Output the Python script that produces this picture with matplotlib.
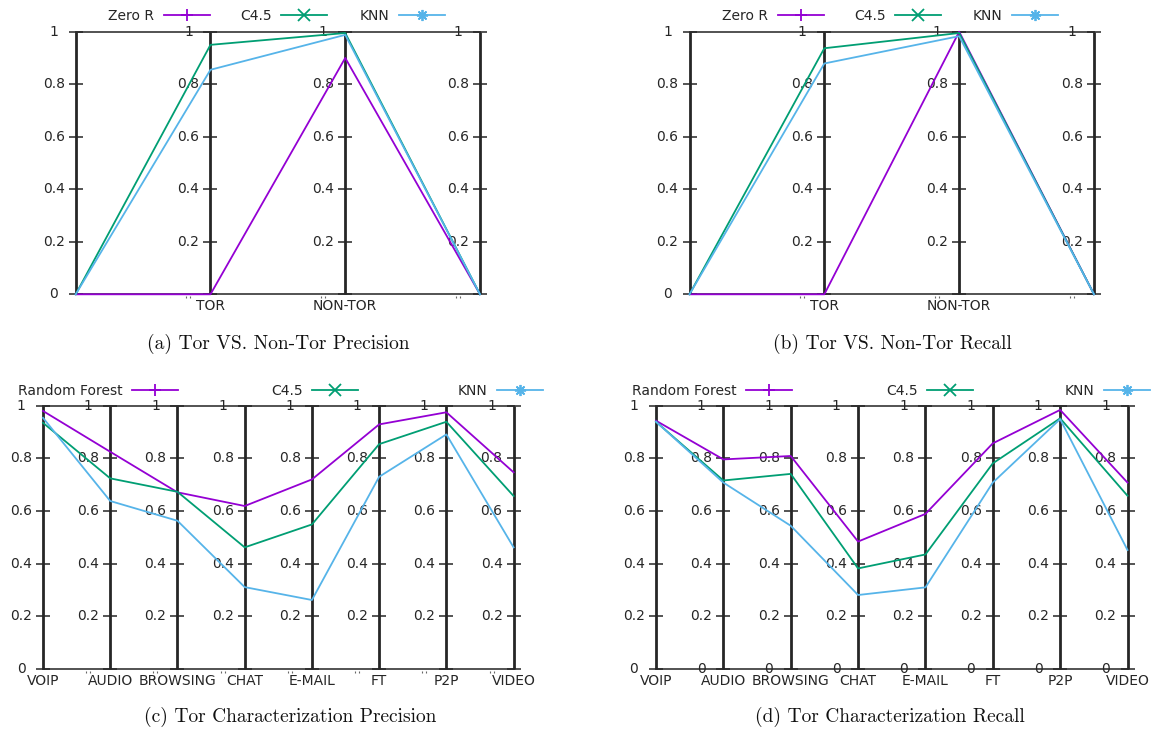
import matplotlib
matplotlib.use("Agg")
import matplotlib.pyplot as plt
from matplotlib.lines import Line2D
from matplotlib.transforms import offset_copy

W, H = 1153, 731
fig = plt.figure(figsize=(W / 100, H / 100), dpi=100)
fig.patch.set_facecolor("white")

# ---------------- data ----------------
tor_axes = ["", "TOR", "NON-TOR", ""]
a_zero_r = [0.0, 0.0, 0.90, 0.0]
a_c45 = [0.0, 0.95, 0.995, 0.0]
a_knn = [0.0, 0.855, 0.988, 0.0]

b_zero_r = [0.0, 0.0, 1.0, 0.0]
b_c45 = [0.0, 0.937, 0.995, 0.0]
b_knn = [0.0, 0.879, 0.983, 0.0]

char_axes = ["VOIP", "AUDIO", "BROWSING", "CHAT", "E-MAIL", "FT", "P2P", "VIDEO"]
c_rf = [0.98, 0.825, 0.671, 0.619, 0.72, 0.929, 0.975, 0.747]
c_c45 = [0.935, 0.724, 0.673, 0.462, 0.549, 0.854, 0.939, 0.657]
c_knn = [0.954, 0.638, 0.563, 0.311, 0.262, 0.730, 0.891, 0.462]

d_rf = [0.943, 0.796, 0.809, 0.484, 0.589, 0.857, 0.984, 0.708]
d_c45 = [0.939, 0.716, 0.741, 0.382, 0.435, 0.781, 0.952, 0.658]
d_knn = [0.939, 0.708, 0.544, 0.281, 0.310, 0.708, 0.949, 0.452]

tick_values = [0, 0.2, 0.4, 0.6, 0.8, 1]
tick_labels = ["0", "0.2", "0.4", "0.6", "0.8", "1"]

captions = ["(a) Tor VS. Non-Tor Precision", "(b) Tor VS. Non-Tor Recall",
            "(c) Tor Characterization Precision", "(d) Tor Characterization Recall"]

# ---------------- style ----------------
PURPLE = "#9400D3"
GREEN = "#009E73"
BLUE = "#56B4E9"
INK = "#262626"
FONT = "DejaVu Sans"
TFS = 10


def panel(box, cats, series, names, markers, legend_ends, legend_y,
          show_inner_zero, caption, cap_xy):
    l, r, t, b = box
    ax = fig.add_axes([l / W, 1 - b / H, (r - l) / W, (b - t) / H])
    n = len(cats)
    ax.set_xlim(0, n - 1)
    ax.set_ylim(0, 1)
    ax.axis("off")
    xs = list(range(n))

    # border lines top/bottom
    ax.plot([0, n - 1], [0, 0], color="#444444", lw=1.3, clip_on=False, zorder=2)
    ax.plot([0, n - 1], [1, 1], color="#444444", lw=1.3, clip_on=False, zorder=2)

    # vertical axes
    ax.vlines(xs, 0, 1, color=INK, lw=2.0, zorder=3, clip_on=False)
    # tick marks crossing each axis
    for xi in xs:
        ax.plot([xi] * len(tick_values), tick_values, ls="none", marker="_",
                ms=10, mew=1.1, color=INK, clip_on=False, zorder=3)

    # tick labels
    lab_tr = offset_copy(ax.transData, fig=fig, x=-22, y=0, units="dots")
    for i, xi in enumerate(xs):
        for tv, tlab in zip(tick_values, tick_labels):
            if tv == 0 and i > 0 and not show_inner_zero:
                # clipped remnant of the hidden "0" label (two tiny strokes)
                for dx in (-24, -20):
                    ax.plot([xi], [0], ls="none", marker="|", ms=1.6, mew=0.8,
                            color="#666666", clip_on=False,
                            transform=offset_copy(ax.transData, fig=fig, x=dx, y=-3,
                                                  units="dots"))
                continue
            ax.text(xi, tv, tlab, transform=lab_tr, ha="center", va="center",
                    fontsize=TFS, color=INK, family=FONT, zorder=4)

    # category labels
    cat_tr = offset_copy(ax.transData, fig=fig, x=0, y=-12, units="dots")
    for xi, c in zip(xs, cats):
        if c:
            ax.text(xi, 0, c, transform=cat_tr, ha="center", va="center",
                    fontsize=TFS, color=INK, family=FONT)

    # data lines
    colors = [PURPLE, GREEN, BLUE]
    for vals, col in zip(series, colors):
        ax.plot(xs, vals, color=col, lw=1.3, clip_on=False, zorder=5)

    # legend entries (gnuplot style: text then sample)
    for name, col, mk, xend in zip(names, colors, markers, legend_ends):
        h = Line2D([], [], color=col, lw=1.3, marker=mk, ms=8, mew=1.3)
        fig.legend(handles=[h], labels=[name], loc="center right",
                   bbox_to_anchor=(xend / W, 1 - legend_y / H),
                   markerfirst=False, frameon=False, borderpad=0,
                   borderaxespad=0, handlelength=3.3, handletextpad=0.7,
                   numpoints=1, prop=dict(family=FONT, size=TFS),
                   labelcolor=INK)

    fig.text(cap_xy[0] / W, 1 - cap_xy[1] / H, caption, ha="center", va="center",
             fontsize=14, family="cmr10", color="#111111")
    return ax


star = (8, 2, 0)
panel((75.7, 480, 31.7, 294.3), tor_axes, [a_zero_r, a_c45, a_knn],
      ["Zero R", "C4.5", "KNN"], ["+", "x", star], [210, 327, 445], 16,
      False, captions[0], (278, 344))
panel((689.5, 1094, 31.7, 294.3), tor_axes, [b_zero_r, b_c45, b_knn],
      ["Zero R", "C4.5", "KNN"], ["+", "x", star], [824, 941, 1058], 16,
      False, captions[1], (892, 344))
panel((43, 513.6, 405.7, 669), char_axes, [c_rf, c_c45, c_knn],
      ["Random Forest", "C4.5", "KNN"], ["+", "x", star], [178, 358, 543], 391,
      False, captions[2], (290, 717))
panel((656, 1127.5, 405.7, 669), char_axes, [d_rf, d_c45, d_knn],
      ["Random Forest", "C4.5", "KNN"], ["+", "x", star], [792, 973, 1150], 391,
      True, captions[3], (890, 717))

fig.savefig("out.png", dpi=100, facecolor="white")
